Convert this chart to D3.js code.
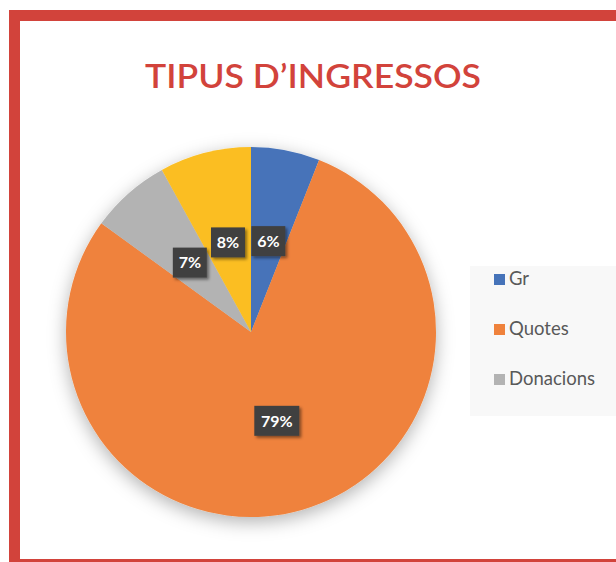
<!DOCTYPE html>
<html><head><meta charset="utf-8">
<script src="https://cdn.jsdelivr.net/npm/d3@7"></script>
<style>html,body{margin:0;padding:0;background:#fff;}svg{display:block;}</style>
</head><body>
<script>
const title = "TIPUS D\u2019INGRESSOS";
const categories = ["Gr", "Quotes", "Donacions", "Altres"];
const values = [6, 79, 7, 8];
const labels = ["6%", "79%", "7%", "8%"];
const legendItems = ["Gr", "Quotes", "Donacions"];
const colors = ["#4673b9", "#ef823c", "#b3b3b3", "#fbbe24"];

const W = 616, H = 562;
const svg = d3.select("body").append("svg").attr("width", W).attr("height", H);
const defs = svg.append("defs");
const f = defs.append("filter").attr("id","pieShadow").attr("x","-30%").attr("y","-30%").attr("width","160%").attr("height","160%");
f.append("feDropShadow").attr("dx",0).attr("dy",5).attr("stdDeviation",9).attr("flood-color","#000").attr("flood-opacity",0.3);
const f2 = defs.append("filter").attr("id","boxShadow").attr("x","-30%").attr("y","-30%").attr("width","160%").attr("height","160%");
f2.append("feDropShadow").attr("dx",2).attr("dy",2).attr("stdDeviation",1.5).attr("flood-color","#000").attr("flood-opacity",0.45);

// frame
svg.append("rect").attr("x",14.5).attr("y",15.5).attr("width",640).attr("height",549)
  .attr("fill","#fff").attr("stroke","#d2433b").attr("stroke-width",11);

svg.append("text").attr("x",313).attr("y",88).attr("text-anchor","middle")
  .attr("font-family","Lato, 'Open Sans', sans-serif").attr("font-size",33)
  .attr("font-weight",600)
  .attr("textLength",336).attr("lengthAdjust","spacingAndGlyphs")
  .attr("fill","#d2433b").text(title);

// legend
const lg = svg.append("g");
lg.append("rect").attr("x",470).attr("y",266).attr("width",160).attr("height",150).attr("fill","#f8f8f8");
const ly = d3.scalePoint().domain(legendItems).range([285,385]);
legendItems.forEach((name,i)=>{
  lg.append("rect").attr("x",494).attr("y",ly(name)-11).attr("width",11).attr("height",11).attr("fill",colors[i]);
  lg.append("text").attr("x",509).attr("y",ly(name)).attr("font-family","Lato, sans-serif")
    .attr("font-size",18.5).attr("fill","#595959").text(name);
});

// pie
const cx = 251, cy = 332, R = 185;
const pie = d3.pie().sort(null).value(d=>d)(values);
const arc = d3.arc().innerRadius(0).outerRadius(R);
const lab = d3.arc().innerRadius(R*0.5).outerRadius(R*0.5);
const g = svg.append("g").attr("transform",`translate(${cx},${cy})`);
g.append("g").attr("filter","url(#pieShadow)").selectAll("path").data(pie).join("path")
  .attr("d",arc).attr("fill",(d,i)=>colors[i]);

const lbl = g.selectAll("g.lbl").data(pie).join("g").attr("class","lbl")
  .attr("transform",d=>{const c=lab.centroid(d);return `translate(${c[0]},${c[1]})`;});
lbl.append("rect").attr("x",(d,i)=>labels[i].length>2?-22.5:-17).attr("y",-15)
  .attr("width",(d,i)=>labels[i].length>2?45:34).attr("height",30)
  .attr("fill","#404040").attr("filter","url(#boxShadow)");
lbl.append("text").attr("text-anchor","middle").attr("dy","0.36em")
  .attr("font-family","Lato, sans-serif").attr("font-weight","bold").attr("font-size",16)
  .attr("fill","#fff").text((d,i)=>labels[i]);
</script>
</body></html>
